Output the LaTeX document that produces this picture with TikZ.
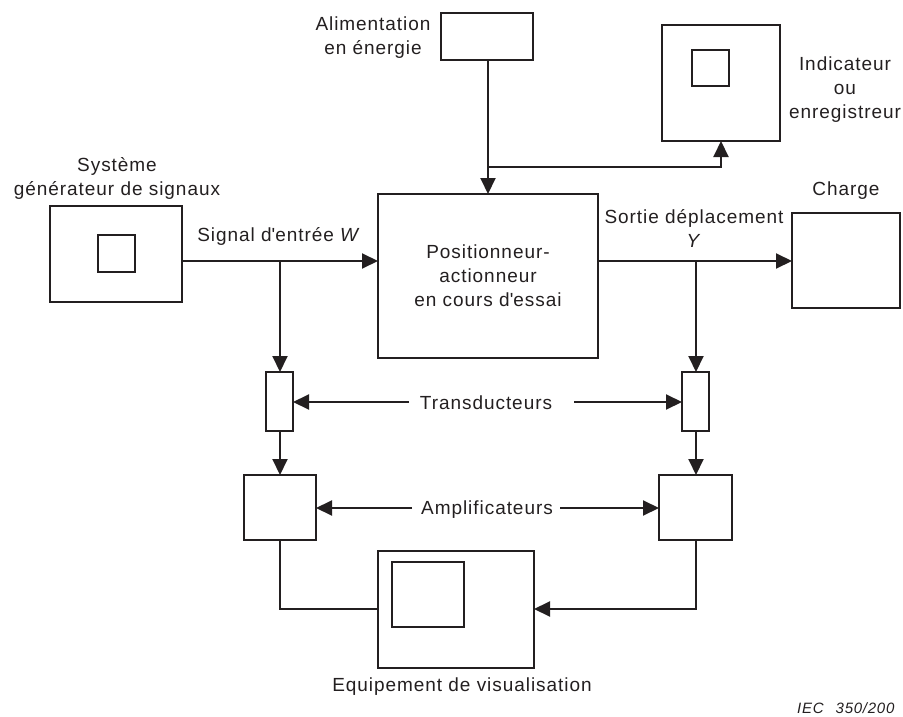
\documentclass[tikz,border=0pt]{standalone}
\usepackage{fontspec}
\setmainfont{Liberation Sans}[LetterSpace=5]
\usetikzlibrary{arrows.meta}
\definecolor{ink}{HTML}{231F20}
\begin{document}
\begin{tikzpicture}[x=1pt,y=-1pt,
  every node/.style={font=\fontsize{19}{24}\selectfont, text=ink},
  box/.style={draw=ink, line width=2pt, inner sep=0pt, outer sep=0pt, fill=white},
  lbl/.style={inner sep=0pt, align=center},
  arr/.style={draw=ink, line width=2pt, -{Triangle[length=16pt,width=15pt]}},
  ln/.style={draw=ink, line width=2pt}]
\useasboundingbox (0,0) rectangle (903,717);
% boxes
\node[box, minimum width=132pt, minimum height=96pt] (gen) at (116,254) {};
\node[box, minimum width=37pt, minimum height=37pt] (genin) at (116.5,253.5) {};
\node[box, minimum width=92pt, minimum height=47pt] (pow) at (487,36.5) {};
\node[box, minimum width=118pt, minimum height=116pt] (ind) at (721,83) {};
\node[box, minimum width=37pt, minimum height=36pt] (indin) at (710.5,68) {};
\node[box, minimum width=220pt, minimum height=164pt, align=center] (pos) at (488,276)
  {Positionneur-\\actionneur\\en cours d\textquotesingle essai};
\node[box, minimum width=108pt, minimum height=95pt] (chg) at (846,260.5) {};
\node[box, minimum width=27pt, minimum height=59pt] (tl) at (279.5,401.5) {};
\node[box, minimum width=27pt, minimum height=59pt] (tr) at (695.5,401.5) {};
\node[box, minimum width=72pt, minimum height=65pt] (al) at (280,507.5) {};
\node[box, minimum width=73pt, minimum height=65pt] (ar) at (695.5,507.5) {};
\node[box, minimum width=156pt, minimum height=117pt] (disp) at (456,609.5) {};
\node[box, minimum width=72pt, minimum height=65pt] (dispin) at (428,594.5) {};
% labels
\node[lbl] (lalim) at (373,37.5) {Alimentation\\en énergie};
\node[lbl] (lgen) at (117,178) {Système\\générateur de signaux};
\node[lbl, anchor=base] (lsig) at (279,241) {Signal d\textquotesingle entrée \textit{W}};
\node[lbl] (lsort) at (694,229) {Sortie déplacement\\\textit{Y}};
\node[lbl, anchor=base] (lchg) at (846,195) {Charge};
\node[lbl] (lind) at (845,89.5) {Indicateur\\ou\\enregistreur};
\node[lbl, anchor=base] (ltr) at (486,409) {Transducteurs};
\node[lbl, anchor=base] (lamp) at (487,514) {Amplificateurs};
\node[lbl, anchor=base] (ldisp) at (462,691) {Equipement de visualisation};
\node[lbl, anchor=base west, font=\fontsize{15}{18}\selectfont\itshape] (liec) at (797,713) {IEC\hspace{12pt}350/200};
% junction coordinates
\coordinate (jw) at (280,261);
\coordinate (jy) at (696,261);
\coordinate (jp) at (488,167);
\coordinate (ji) at (721,167);
\coordinate (jdl) at (280,609);
\coordinate (jdr) at (696,609);
\coordinate (ttl) at (409,402);
\coordinate (ttr) at (574,402);
\coordinate (tal) at (412,508);
\coordinate (tar) at (560,508);
% connectors
\draw[arr] (gen.east |- jw) -- (pos.west |- jw);
\draw[arr] (jw) -- (tl.north -| jw);
\draw[arr] (tl.south -| jw) -- (al.north -| jw);
\draw[ln] (al.south -| jdl) -- (jdl) -- (disp.west |- jdl);
\draw[arr] (pos.east |- jy) -- (chg.west |- jy);
\draw[arr] (jy) -- (tr.north -| jy);
\draw[arr] (tr.south -| jy) -- (ar.north -| jy);
\draw[arr] (ar.south -| jdr) -- (jdr) -- (disp.east |- jdr);
\draw[arr] (pow.south -| jp) -- (pos.north -| jp);
\draw[arr] (jp) -- (ji) -- (ind.south -| ji);
\draw[arr] (ttl) -- (tl.east |- ttl);
\draw[arr] (ttr) -- (tr.west |- ttr);
\draw[arr] (tal) -- (al.east |- tal);
\draw[arr] (tar) -- (ar.west |- tar);
\end{tikzpicture}
\end{document}
